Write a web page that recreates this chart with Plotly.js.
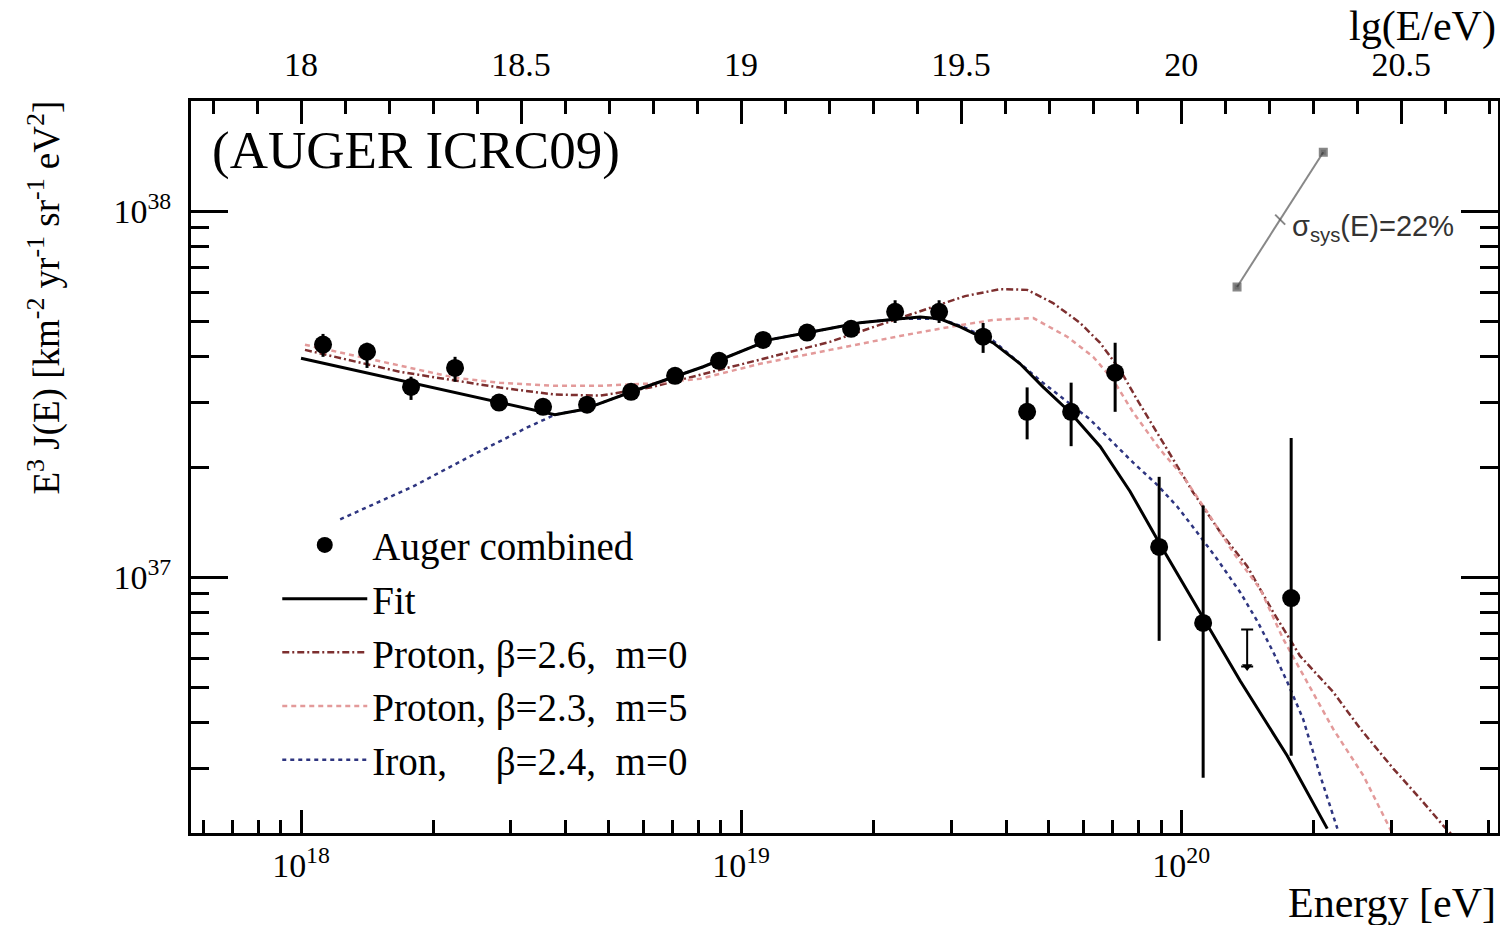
<!DOCTYPE html>
<html>
<head>
<meta charset="utf-8">
<script src="https://cdn.plot.ly/plotly-3.0.1.min.js"></script>
<style>html,body{margin:0;padding:0;background:#fff;}#chart{width:1500px;height:925px;}</style>
</head>
<body>
<div id="chart"></div>
<script>
// ---- Auger combined spectrum (lg(E/eV), E^3 J in units of 1e37 km^-2 yr^-1 sr^-1 eV^2)
const UNIT = 1e37;
const dataLgE      = [18.05,18.15,18.25,18.35,18.45,18.55,18.65,18.75,18.85,18.95,19.05,19.15,19.25,19.35,19.45,19.55,19.65,19.75,19.85,19.95,20.05,20.25];
const dataFlux     = [4.32,4.13,3.31,3.73,3.00,2.92,2.96,3.21,3.55,3.90,4.45,4.66,4.77,5.31,5.31,4.54,2.83,2.83,3.62,1.21,0.75,0.877];
const dataFluxHigh = [4.62,4.37,3.53,4.00,3.10,3.01,3.04,3.29,3.63,3.99,4.55,4.77,4.88,5.71,5.71,4.95,3.30,3.40,4.37,1.88,1.57,2.40];
const dataFluxLow  = [4.00,3.73,3.05,3.42,2.90,2.83,2.88,3.13,3.47,3.81,4.35,4.55,4.65,4.95,4.95,4.10,2.38,2.28,2.83,0.67,0.283,0.325];
// upper limit
const limitLgE = [20.15];
const limitTop = [0.72];
const limitTip = [0.57];

// ---- model curves (lg E, lg(E^3 J))
const fitLgE    = [18.00,18.577,18.641,18.764,18.914,19.066,19.150,19.270,19.361,19.407,19.452,19.498,19.573,19.634,19.686,19.748,19.816,19.884,19.952,20.043,20.134,20.241,20.332];
const fitLgFlux = [37.598,37.444,37.458,37.512,37.575,37.649,37.668,37.695,37.706,37.711,37.706,37.684,37.640,37.583,37.520,37.450,37.357,37.234,37.090,36.902,36.717,36.512,36.313];

const p26LgE    = [18.009,18.225,18.452,18.577,18.680,18.793,18.907,19.043,19.202,19.361,19.452,19.509,19.589,19.650,19.709,19.770,19.816,19.861,19.900,19.968,20.027,20.089,20.150,20.209,20.270,20.345,20.407,20.482,20.543,20.595,20.620];
const p26LgFlux = [37.621,37.561,37.518,37.499,37.496,37.518,37.553,37.594,37.643,37.708,37.744,37.768,37.787,37.785,37.749,37.695,37.640,37.567,37.485,37.349,37.232,37.123,37.030,36.905,36.785,36.687,36.586,36.477,36.395,36.322,36.290];

const p23LgE    = [18.009,18.225,18.350,18.452,18.577,18.680,18.793,18.907,19.043,19.202,19.361,19.475,19.573,19.664,19.741,19.800,19.845,19.891,19.952,20.005,20.066,20.118,20.180,20.232,20.286,20.345,20.414,20.480];
const p23LgFlux = [37.635,37.578,37.545,37.531,37.523,37.523,37.529,37.542,37.583,37.621,37.659,37.684,37.703,37.708,37.657,37.602,37.540,37.450,37.349,37.275,37.166,37.068,36.967,36.831,36.714,36.586,36.458,36.300];

const feLgE     = [18.089,18.255,18.384,18.514,18.577,18.641,18.764,18.914,19.066,19.150,19.270,19.361,19.452,19.498,19.573,19.686,19.793,19.845,19.891,19.945,19.991,20.036,20.082,20.134,20.173,20.209,20.241,20.277,20.316,20.355];
const feLgFlux  = [37.158,37.248,37.330,37.409,37.444,37.458,37.512,37.575,37.649,37.668,37.695,37.706,37.706,37.687,37.646,37.531,37.431,37.368,37.313,37.253,37.193,37.123,37.049,36.959,36.880,36.796,36.714,36.613,36.458,36.313];

// systematic energy-scale arrow
const sysLgE    = [20.127,20.225,20.323];
const sysLgFlux = [37.793,37.977,38.161];

// ticks
const bottomMajor = [1e18,1e19,1e20];
const bottomMajorText = ['10<sup>18</sup>','10<sup>19</sup>','10<sup>20</sup>'];
const leftMajor = [1e37,1e38];
const leftMajorText = ['10<sup>37</sup>','10<sup>38</sup>'];
const minorDigits = [2,3,4,5,6,7,8,9];
const topTicks = [18,18.5,19,19.5,20,20.5];
const topTickText = ['18','18.5','19','19.5','20','20.5'];

const legendNames = ['Auger combined','Fit','Proton, \u03b2=2.6,\u00a0 m=0','Proton, \u03b2=2.3,\u00a0 m=5','Iron,\u00a0\u00a0\u00a0\u00a0 \u03b2=2.4,\u00a0 m=0'];

const p10 = v => Math.pow(10, v);
const xMinor = [], yMinor = [];
[17,18,19,20].forEach(d => minorDigits.forEach(m => xMinor.push(m * p10(d))));
[36,37].forEach(d => minorDigits.forEach(m => yMinor.push(m * p10(d))));

const serif = 'Liberation Serif, Times New Roman, serif';

const traces = [
  {x: p26LgE.map(p10), y: p26LgFlux.map(p10), mode:'lines', name: legendNames[2], legendrank:3,
   line:{color:'#7d2f2f', width:2.5, dash:'7px,3px,2px,3px'}},
  {x: p23LgE.map(p10), y: p23LgFlux.map(p10), mode:'lines', name: legendNames[3], legendrank:4,
   line:{color:'#e39a9a', width:2.5, dash:'5px,4px'}},
  {x: feLgE.map(p10), y: feLgFlux.map(p10), mode:'lines', name: legendNames[4], legendrank:5,
   line:{color:'#2e3580', width:2.5, dash:'4px,4px'}},
  {x: fitLgE.map(p10), y: fitLgFlux.map(p10), mode:'lines', name: legendNames[1], legendrank:2,
   line:{color:'#000', width:3}},
  {x: dataLgE.map(p10), y: dataFlux.map(v => v*UNIT), mode:'markers', name: legendNames[0], legendrank:1,
   marker:{color:'#000', size:18, symbol:'circle'},
   error_y:{type:'data', symmetric:false,
     array: dataFluxHigh.map((h,i) => (h - dataFlux[i])*UNIT),
     arrayminus: dataFluxLow.map((l,i) => (dataFlux[i] - l)*UNIT),
     color:'#000', thickness:3, width:0}},
  {x: limitLgE.map(p10), y: limitTip.map(v => v*UNIT), mode:'markers', showlegend:false,
   marker:{color:'#000', size:9, symbol:'triangle-down'},
   error_y:{type:'data', symmetric:false, array: limitTop.map((t,i)=>(t-limitTip[i])*UNIT), arrayminus:[0],
     color:'#000', thickness:2, width:6}},
  {x: sysLgE.map(p10), y: sysLgFlux.map(p10), mode:'lines+markers', showlegend:false,
   line:{color:'#888', width:2},
   marker:{color:'#333', size:[7,10,7], symbol:['square','line-nw','square'], line:{color:'#555', width:2}}},
  {x: topTicks, y: topTicks.map(() => UNIT), xaxis:'x2', mode:'none', showlegend:false, hoverinfo:'skip'}
];

const axisCommon = {ticks:'inside', tickwidth:3, tickcolor:'#000', showline:true, linewidth:3, linecolor:'#000',
  showgrid:false, zeroline:false, tickfont:{family:serif, size:34, color:'#000'}};

const layout = {
  width:1500, height:925,
  margin:{l:191, r:2, t:101, b:92},
  paper_bgcolor:'#fff', plot_bgcolor:'#fff',
  showlegend:true,
  legend:{x:0.066, y:0.437, xanchor:'left', yanchor:'top', bgcolor:'rgba(0,0,0,0)', borderwidth:0,
    font:{family:serif, size:39, color:'#000'}, itemwidth:85, tracegroupgap:0},
  xaxis: Object.assign({}, axisCommon, {type:'log', range:[17.75,20.72], tickmode:'array', tickvals:bottomMajor,
    ticktext:bottomMajorText, ticklen:23, mirror:false,
    minor:{tickmode:'array', tickvals:xMinor, ticks:'inside', ticklen:13, tickwidth:3, tickcolor:'#000', showgrid:false}}),
  xaxis2: Object.assign({}, axisCommon, {overlaying:'x', side:'top', anchor:'y', range:[17.75,20.72],
    tickmode:'array', tickvals:topTicks, ticktext:topTickText, ticklen:23, ticklabelstandoff:8,
    minor:{tick0:18, dtick:0.1, ticks:'inside', ticklen:13, tickwidth:3, tickcolor:'#000', showgrid:false}}),
  yaxis: Object.assign({}, axisCommon, {type:'log', range:[Math.log10(2e36), Math.log10(2e38)], tickmode:'array',
    tickvals:leftMajor, ticktext:leftMajorText, ticklen:37, mirror:'ticks', ticklabelstandoff:10,
    minor:{tickmode:'array', tickvals:yMinor, ticks:'inside', ticklen:18, tickwidth:3, tickcolor:'#000', showgrid:false}}),
  annotations:[
    {text:'(AUGER ICRC09)', xref:'paper', yref:'paper', x:0.0145, y:0.933, xanchor:'left', yanchor:'middle',
     showarrow:false, font:{family:serif, size:53, color:'#000'}},
    {text:'Energy [eV]', xref:'paper', yref:'paper', x:1.0, y:-0.096, xanchor:'right', yanchor:'middle',
     showarrow:false, font:{family:serif, size:42, color:'#000'}},
    {text:'lg(E/eV)', xref:'paper', yref:'paper', x:1.0, y:1.102, xanchor:'right', yanchor:'middle',
     showarrow:false, font:{family:serif, size:42, color:'#000'}},
    {text:'E<sup>3</sup> J(E) [km<sup>-2</sup> yr<sup>-1</sup> sr<sup>-1</sup> eV<sup>2</sup>]', xref:'paper', yref:'paper',
     x:-0.112, y:0.731, xanchor:'center', yanchor:'middle', textangle:-90,
     showarrow:false, font:{family:serif, size:37, color:'#000'}},
    {text:'\u03c3<sub>sys</sub>(E)=22%', xref:'paper', yref:'paper', x:0.841, y:0.8265, xanchor:'left', yanchor:'middle',
     showarrow:false, font:{family:'Liberation Sans, Arial, sans-serif', size:29, color:'#333'}}
  ]
};

Plotly.newPlot('chart', traces, layout, {staticPlot:true, displayModeBar:false});
</script>
</body>
</html>
